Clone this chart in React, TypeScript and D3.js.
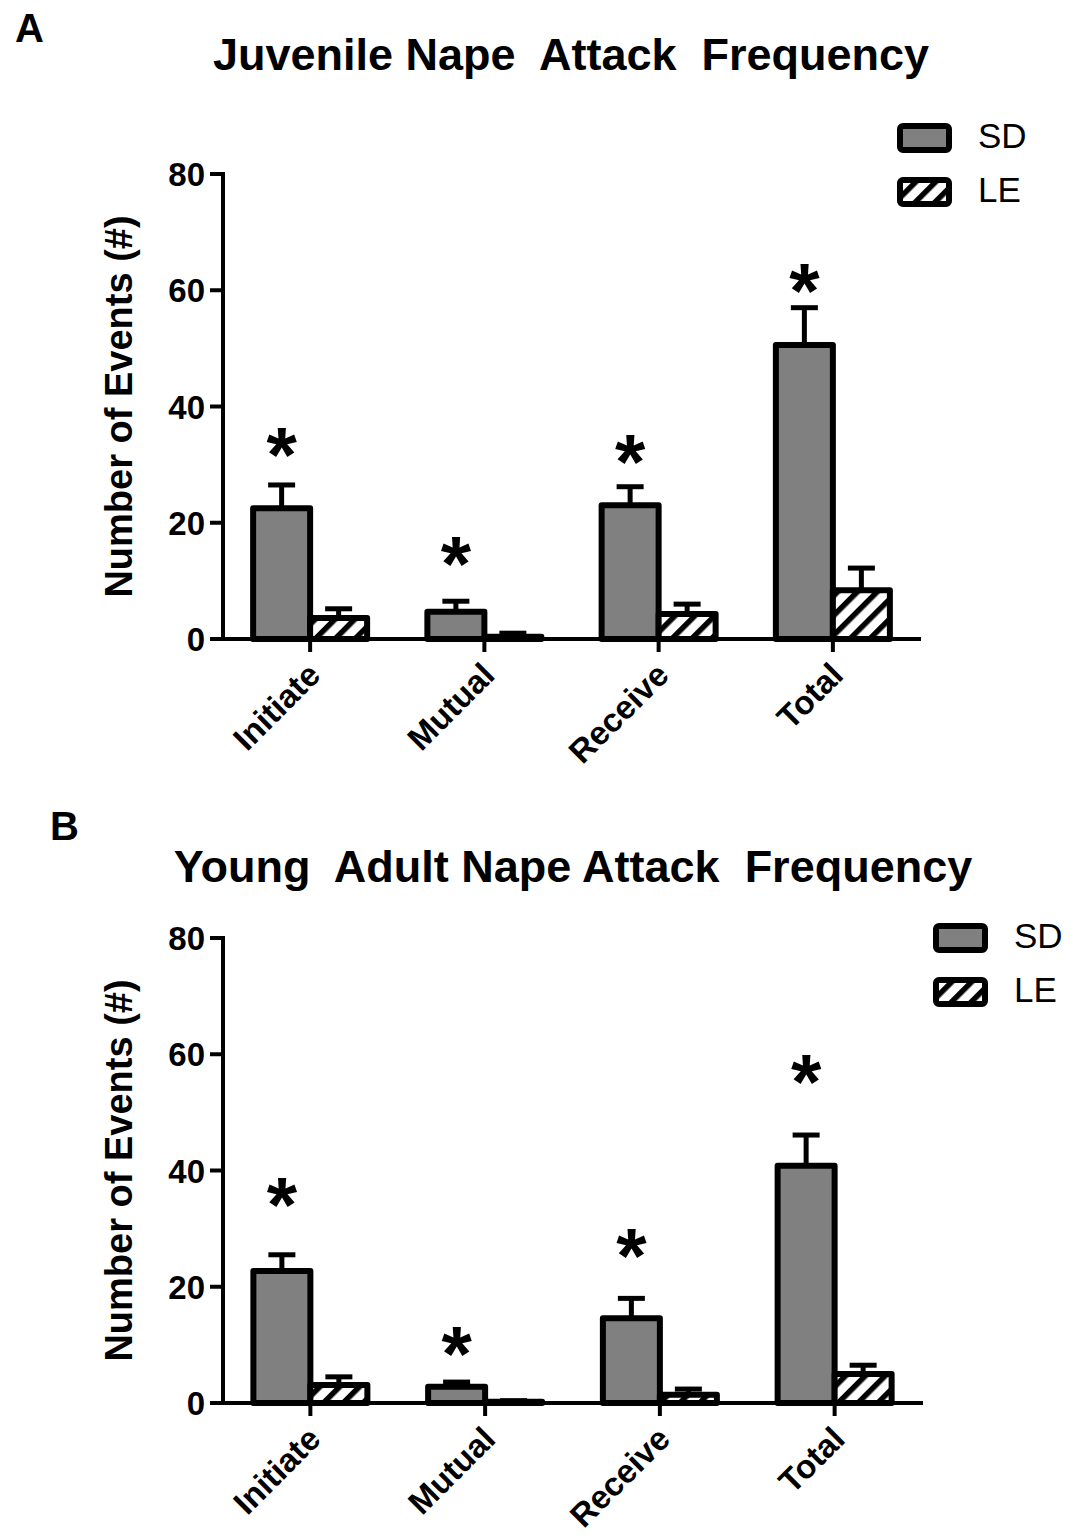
import React from "react";
import * as d3 from "d3";

// Categories and groups
const categories = ["Initiate", "Mutual", "Receive", "Total"];
const groups = ["SD", "LE"];
const yTicks = [0, 20, 40, 60, 80];

// Juvenile nape attacks (mean, SEM, significance marker height)
const juvenileSD = [22.5, 4.7, 23.0, 50.6];
const juvenileSDErr = [4.0, 1.8, 3.2, 6.4];
const juvenileLE = [3.6, 0.4, 4.3, 8.4];
const juvenileLEErr = [1.6, 0.6, 1.7, 3.8];
const juvenileStars = [34.8, 16.0, 33.5, 63.0];

// Young adult nape attacks
const adultSD = [22.7, 2.8, 14.6, 40.8];
const adultSDErr = [2.8, 0.8, 3.4, 5.3];
const adultLE = [3.1, 0.2, 1.4, 5.0];
const adultLEErr = [1.4, 0.2, 1.0, 1.5];
const adultStars = [37.2, 11.5, 28.4, 58.3];

const FONT = "'Liberation Sans', Arial, Helvetica, sans-serif";
const GRAY = "#808080";

type PanelProps = {
  letter: string;
  letterX: number;
  letterY: number;
  title: string;
  titleX: number;
  titleY: number;
  top: number;
  bottom: number;
  left: number;
  right: number;
  legendX: number;
  legendY: number;
  sd: number[];
  sdErr: number[];
  le: number[];
  leErr: number[];
  stars: number[];
};

function Panel(p: PanelProps) {
  const y = d3.scaleLinear().domain([0, 80]).range([p.bottom, p.top]);
  const x = d3.scaleBand().domain(categories).range([p.left, p.right]);
  const inner = d3.scaleBand().domain(groups).range([-57, 57]);
  const bw = inner.bandwidth();
  const values: Record<string, number[]> = { SD: p.sd, LE: p.le };
  const errs: Record<string, number[]> = { SD: p.sdErr, LE: p.leErr };
  const fills: Record<string, string> = { SD: GRAY, LE: "url(#hatch)" };
  const axisX0 = p.left - 13;
  const axisX1 = p.right + 1;

  return (
    <g fontFamily={FONT}>
      <text x={p.letterX} y={p.letterY} fontSize={40} fontWeight="bold">
        {p.letter}
      </text>
      <text
        x={p.titleX}
        y={p.titleY}
        fontSize={45}
        fontWeight="bold"
        textAnchor="middle"
        style={{ whiteSpace: "pre" }}
      >
        {p.title}
      </text>

      {/* y axis */}
      <line x1={p.left} x2={p.left} y1={p.top - 2} y2={p.bottom} stroke="#000" strokeWidth={4} />
      {yTicks.map((t) => (
        <g key={t}>
          <line x1={axisX0} x2={p.left} y1={y(t)} y2={y(t)} stroke="#000" strokeWidth={4} />
          <text
            x={p.left - 18}
            y={y(t) + 12}
            fontSize={33}
            fontWeight="bold"
            textAnchor="end"
          >
            {t}
          </text>
        </g>
      ))}
      <text
        transform={`translate(132,${(p.top + p.bottom) / 2}) rotate(-90)`}
        fontSize={38}
        fontWeight="bold"
        textAnchor="middle"
      >
        Number of Events (#)
      </text>

      {/* error bars */}
      {categories.map((c, i) =>
        groups.map((g) => {
          const cx = (x(c) as number) + x.bandwidth() / 2 + (inner(g) as number) + bw / 2;
          const v = values[g][i];
          const e = errs[g][i];
          return (
            <g key={c + g + "err"}>
              <line x1={cx} x2={cx} y1={y(v)} y2={y(v + e)} stroke="#000" strokeWidth={5} />
              <line x1={cx - 13.5} x2={cx + 13.5} y1={y(v + e)} y2={y(v + e)} stroke="#000" strokeWidth={5} />
            </g>
          );
        })
      )}

      {/* bars */}
      {categories.map((c, i) =>
        groups.map((g) => {
          const bx = (x(c) as number) + x.bandwidth() / 2 + (inner(g) as number);
          const v = values[g][i];
          return (
            <rect
              key={c + g}
              x={bx}
              y={y(v)}
              width={bw}
              height={y(0) - y(v)}
              fill={fills[g]}
              stroke="#000"
              strokeWidth={6}
              strokeLinejoin="round"
            />
          );
        })
      )}

      {/* x axis */}
      <line x1={axisX0} x2={axisX1} y1={p.bottom} y2={p.bottom} stroke="#000" strokeWidth={4} />
      {categories.map((c) => {
        const cx = (x(c) as number) + x.bandwidth() / 2;
        return (
          <g key={c + "tick"}>
            <line x1={cx} x2={cx} y1={p.bottom} y2={p.bottom + 13} stroke="#000" strokeWidth={4} />
            <text
              transform={`translate(${cx + 12},${p.bottom + 38}) rotate(-45)`}
              fontSize={33}
              fontWeight="bold"
              textAnchor="end"
            >
              {c}
            </text>
          </g>
        );
      })}

      {/* significance markers */}
      {categories.map((c, i) => {
        const cx = (x(c) as number) + x.bandwidth() / 2 + (inner("SD") as number) + bw / 2;
        return (
          <text
            key={c + "star"}
            x={cx}
            y={y(p.stars[i]) + 45}
            fontSize={78}
            fontWeight="bold"
            textAnchor="middle"
          >
            *
          </text>
        );
      })}

      {/* legend */}
      {groups.map((g, k) => (
        <g key={g + "legend"} transform={`translate(${p.legendX},${p.legendY + k * 54})`}>
          <rect x={3} y={3} width={49} height={24} rx={3} fill={fills[g]} stroke="#000" strokeWidth={6} strokeLinejoin="round" />
          <text x={81} y={25} fontSize={35}>
            {g}
          </text>
        </g>
      ))}
    </g>
  );
}

export default function App() {
  return (
    <svg
      width={1083}
      height={1538}
      style={{ position: "absolute", left: 0, top: 0, background: "#fff" }}
    >
      <defs>
        <pattern
          id="hatch"
          patternUnits="userSpaceOnUse"
          width={14}
          height={14}
          patternTransform="rotate(45)"
        >
          <rect width={14} height={14} fill="#fff" />
          <rect x={0} y={0} width={5.5} height={14} fill="#000" />
        </pattern>
      </defs>
      <rect width={1083} height={1538} fill="#fff" />
      <Panel
        letter="A"
        letterX={15}
        letterY={42}
        title="Juvenile Nape  Attack  Frequency"
        titleX={571}
        titleY={70}
        top={174}
        bottom={639}
        left={223}
        right={920}
        legendX={897}
        legendY={123}
        sd={juvenileSD}
        sdErr={juvenileSDErr}
        le={juvenileLE}
        leErr={juvenileLEErr}
        stars={juvenileStars}
      />
      <Panel
        letter="B"
        letterX={50}
        letterY={840}
        title="Young  Adult Nape Attack  Frequency"
        titleX={573}
        titleY={882}
        top={938}
        bottom={1403}
        left={223}
        right={922}
        legendX={933}
        legendY={923}
        sd={adultSD}
        sdErr={adultSDErr}
        le={adultLE}
        leErr={adultLEErr}
        stars={adultStars}
      />
    </svg>
  );
}
